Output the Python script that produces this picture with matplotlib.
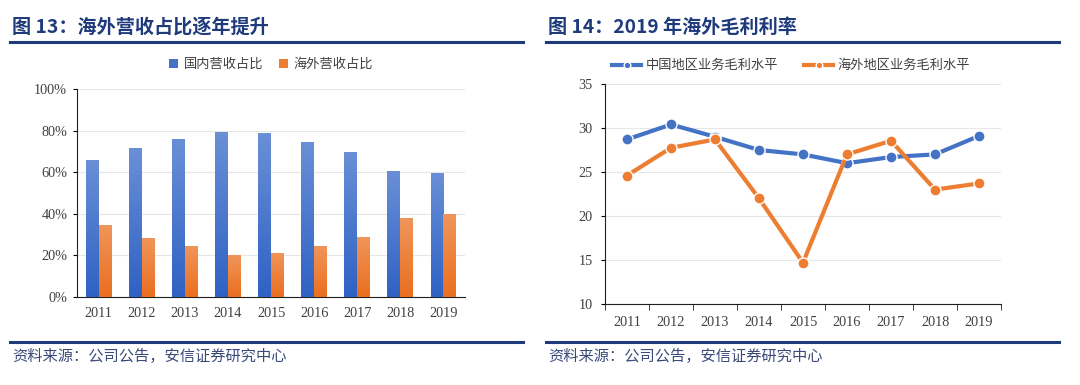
import numpy as np
import matplotlib
matplotlib.use('Agg')
import matplotlib.pyplot as plt
from matplotlib.colors import LinearSegmentedColormap

plt.rcParams['font.family'] = ['Noto Sans CJK SC', 'DejaVu Sans']

years = ['2011', '2012', '2013', '2014', '2015', '2016', '2017', '2018', '2019']
domestic_share = [65.9, 71.8, 76.0, 79.5, 78.7, 74.7, 69.9, 60.8, 59.5]
overseas_share = [34.4, 28.2, 24.3, 20.0, 21.3, 24.3, 28.8, 37.8, 40.0]
china_margin = [28.7, 30.4, 29.0, 27.5, 27.0, 26.0, 26.7, 27.0, 29.1]
overseas_margin = [24.6, 27.75, 28.7, 22.0, 14.7, 27.0, 28.55, 23.0, 23.7]

TITLE_COLOR = '#1f3b7c'
BLUE = '#4472c4'
ORANGE = '#ed7d31'
TICK_FONT = 'Liberation Serif'
TICK_COLOR = '#404040'
GRID_COLOR = '#e6e6e6'

fig = plt.figure(figsize=(10.8, 3.85), dpi=100)


def gradient_bars(ax, bars, top, bottom):
    cmap = LinearSegmentedColormap.from_list('g', [bottom, top])
    grad = np.linspace(0, 1, 100).reshape(-1, 1)
    for b in bars:
        x0, y0 = b.get_x(), b.get_y()
        w, h = b.get_width(), b.get_height()
        im = ax.imshow(grad, cmap=cmap, origin='lower', aspect='auto',
                       extent=(x0, x0 + w, y0, y0 + h), zorder=3)
        im.set_clip_path(b)


# headers and footers
for x0, x1, title in [(10, 523, '图 13：海外营收占比逐年提升'),
                      (546, 1059, '图 14：2019 年海外毛利利率')]:
    fig.text((x0 + 2) / 1080, 1 - 27 / 385, title, fontsize=13.8, fontweight='bold',
             color=TITLE_COLOR, va='center', ha='left')
    fig.add_artist(plt.Line2D([x0 / 1080, x1 / 1080], [1 - 42 / 385] * 2,
                              color=TITLE_COLOR, lw=2.2))
    fig.add_artist(plt.Line2D([x0 / 1080, x1 / 1080], [1 - 342 / 385] * 2,
                              color=TITLE_COLOR, lw=2.2))
    fig.text((x0 + 2) / 1080, 1 - 356 / 385, '资料来源：公司公告，安信证券研究中心',
             fontsize=11, color='#3a4a7a', va='center', ha='left', style='italic')

# left: bar chart
ax1 = fig.add_axes([77 / 1080, 1 - 297 / 385, 388 / 1080, 208 / 385])
x = np.arange(len(years))
w = 0.3
b1 = ax1.bar(x - w / 2, domestic_share, w, color=BLUE, label='国内营收占比', zorder=3)
b2 = ax1.bar(x + w / 2, overseas_share, w, color=ORANGE, label='海外营收占比', zorder=3)
gradient_bars(ax1, b1, '#6a8fd6', '#2f62c4')
gradient_bars(ax1, b2, '#f0955a', '#ea6f1f')
ax1.set_xlim(-0.5, len(years) - 0.5)
ax1.set_ylim(0, 100)
ax1.set_yticks(range(0, 101, 20))
ax1.set_yticklabels([f'{v}%' for v in range(0, 101, 20)])
ax1.set_xticks(x)
ax1.set_xticklabels(years)
ax1.yaxis.grid(True, color=GRID_COLOR, lw=0.8)
ax1.set_axisbelow(True)
for s in ['top', 'right']:
    ax1.spines[s].set_visible(False)
ax1.spines['left'].set_color('#202020')
ax1.spines['bottom'].set_color('#202020')
ax1.tick_params(axis='x', length=0, pad=7)
ax1.tick_params(axis='y', length=3, pad=4)
for lab in ax1.get_xticklabels() + ax1.get_yticklabels():
    lab.set_fontfamily(TICK_FONT)
    lab.set_fontsize(10.3)
    lab.set_color(TICK_COLOR)
ax1.legend(loc='lower center', bbox_to_anchor=(0.5, 1.03), ncol=2, frameon=False,
           fontsize=9.5, handlelength=0.7, handleheight=0.7, handletextpad=0.4,
           columnspacing=1.2, labelcolor='#404040')

# right: line chart
ax2 = fig.add_axes([605 / 1080, 1 - 304 / 385, 396 / 1080, 220 / 385])
ax2.plot(x, china_margin, color=BLUE, lw=3, marker='o', ms=8, mfc=BLUE, mec='white',
         mew=1, label='中国地区业务毛利水平', zorder=3)
ax2.plot(x, overseas_margin, color=ORANGE, lw=3, marker='o', ms=8, mfc=ORANGE, mec='white',
         mew=1, label='海外地区业务毛利水平', zorder=4)
ax2.set_xlim(-0.5, len(years) - 0.5)
ax2.set_ylim(10, 35)
ax2.set_yticks(range(10, 36, 5))
ax2.set_xticks(x)
ax2.set_xticklabels(years)
ax2.set_xticks(np.arange(-0.5, len(years), 1), minor=True)
ax2.yaxis.grid(True, color=GRID_COLOR, lw=0.8)
ax2.set_axisbelow(True)
for s in ['top', 'right']:
    ax2.spines[s].set_visible(False)
ax2.spines['left'].set_color('#202020')
ax2.spines['bottom'].set_color('#202020')
ax2.tick_params(axis='x', which='major', length=0, pad=9)
ax2.tick_params(axis='x', which='minor', length=4, color='#202020')
ax2.tick_params(axis='y', length=3, pad=6)
for lab in ax2.get_xticklabels() + ax2.get_yticklabels():
    lab.set_fontfamily(TICK_FONT)
    lab.set_fontsize(10.3)
    lab.set_color(TICK_COLOR)
ax2.legend(loc='lower center', bbox_to_anchor=(0.47, 1.0), ncol=2, frameon=False,
           fontsize=9.5, handlelength=2.2, handletextpad=0.3, columnspacing=2.0,
           labelcolor='#404040', markerscale=0.6)

fig.savefig('out.png', dpi=100)
